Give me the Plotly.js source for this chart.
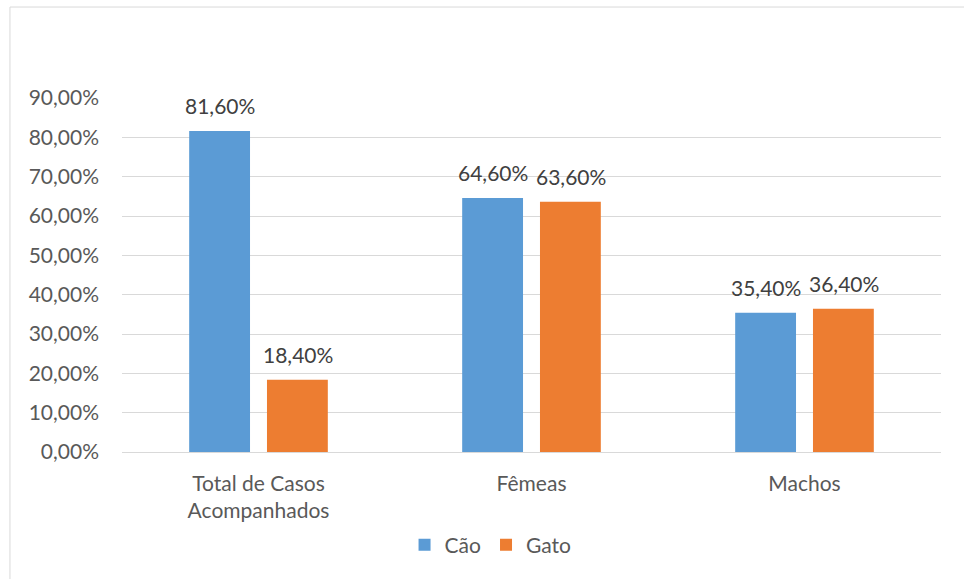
<!DOCTYPE html>
<html>
<head>
<meta charset="utf-8">
<script src="https://cdn.plot.ly/plotly-3.0.1.min.js"></script>
<style>html,body{margin:0;padding:0;background:#fff;}#chart{width:964px;height:579px;}</style>
</head>
<body>
<div id="chart"></div>
<script>
const categories = ["Total de Casos<br>Acompanhados", "Fêmeas", "Machos"];
const caoValues = [0.816, 0.646, 0.354];
const gatoValues = [0.184, 0.636, 0.364];
const seriesNames = ["Cão", "Gato"];

const font = "Lato, 'Open Sans', sans-serif";
const grey = "#595959";
const FS = 21;

function fmt(v){ return (v*100).toFixed(2).replace(".", ",") + "%"; }

const traces = [
  {type:"bar", name:seriesNames[0], x:categories, y:caoValues, marker:{color:"#5B9BD5"}, hoverinfo:"none"},
  {type:"bar", name:seriesNames[1], x:categories, y:gatoValues, marker:{color:"#ED7D31"}, hoverinfo:"none"}
];

const annotations = [];
[caoValues, gatoValues].forEach((vals, si) => {
  vals.forEach((v, i) => {
    annotations.push({x:categories[i], y:v, xref:"x", yref:"y", text:fmt(v), showarrow:false,
      xanchor:"center", yanchor:"bottom", xshift: si === 0 ? -39 : 39, yshift:11,
      font:{family:font, size:FS, color:"#404040"}});
  });
});

const layout = {
  width:964, height:579,
  margin:{l:122, r:23, t:98, b:127},
  paper_bgcolor:"#fff", plot_bgcolor:"#fff",
  separators:",.",
  barmode:"group", bargap:0.43, bargroupgap:0.218,
  font:{family:font, size:FS, color:grey},
  xaxis:{showgrid:false, showline:false, zeroline:false, ticks:"", ticklabelstandoff:17, tickfont:{family:font, size:FS, color:grey}, automargin:false},
  yaxis:{range:[0,0.9], dtick:0.1, tickformat:".2%", showgrid:true, gridcolor:"#d9d9d9", gridwidth:1,
         zeroline:true, zerolinecolor:"#d9d9d9", zerolinewidth:1, showline:false, ticks:"", ticklen:0,
         ticklabelstandoff:22, tickfont:{family:font, size:FS, color:grey}, automargin:false},
  legend:{orientation:"h", x:0.45, xanchor:"center", y:-0.263, yanchor:"middle", font:{family:font, size:FS, color:grey}, itemwidth:30, traceorder:"normal"},
  annotations: annotations,
  shapes:[{type:"rect", xref:"paper", yref:"paper", x0:-0.1368, x1:1.05, y0:-0.45, y1:1.257, line:{color:"#d9d9d9", width:1}, layer:"below"}]
};

Plotly.newPlot("chart", traces, layout, {displayModeBar:false, staticPlot:true});
</script>
</body>
</html>
